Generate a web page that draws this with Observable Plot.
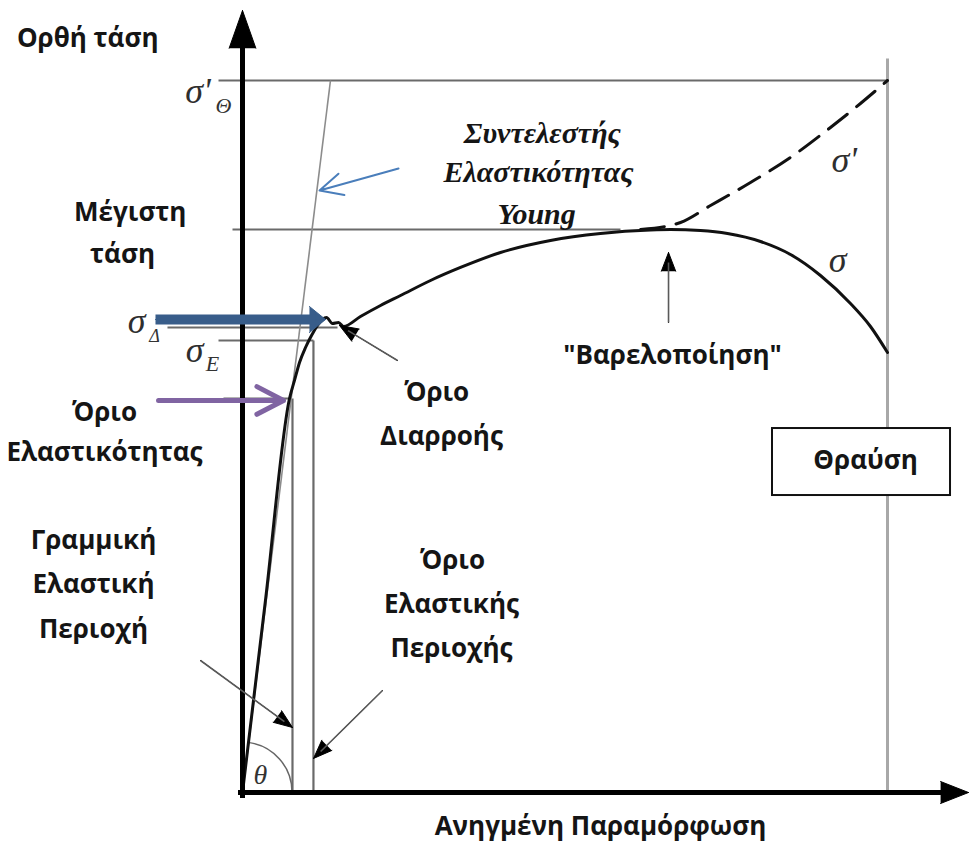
<!DOCTYPE html>
<html>
<head>
<meta charset="utf-8">
<script src="https://cdn.jsdelivr.net/npm/d3@7"></script>
<script src="https://cdn.jsdelivr.net/npm/@observablehq/plot@0.6"></script>
<style>
  html, body { margin: 0; padding: 0; background: #fff; }
  #chart svg { display: block; }
</style>
</head>
<body>
<div id="chart"></div>
<script>
// Stress–strain diagram (schematic units: strain 0–100 up to fracture, stress 0–100 = true fracture stress σ'Θ)

// Engineering stress curve σ
const strainEng = [0, 3.6, 7.29, 8.06, 8.84, 9.77, 10.70, 11.63, 12.40, 13.02, 13.95, 14.88, 15.66, 18.29, 21.40, 24.50, 29.15, 33.80, 40.00, 47.75, 55.50, 63.26, 66.36, 71.01, 75.19, 80.31, 84.96, 89.61, 94.26, 97.36, 100];
const stressEng = [0, 27.3, 55.34, 57.87, 60.39, 62.50, 64.19, 65.59, 66.43, 66.71, 65.87, 66.01, 65.45, 66.85, 68.40, 69.80, 71.91, 73.74, 75.84, 77.53, 78.51, 79.00, 79.07, 78.93, 78.51, 77.39, 75.56, 72.61, 68.68, 65.45, 61.80];

// True stress curve σ' (after necking onset)
const strainTrue = [61.71, 67.91, 72.56, 78.76, 84.96, 91.16, 95.81, 100];
const stressTrue = [79.07, 80.06, 82.44, 85.67, 89.19, 93.40, 96.77, 100];

// Characteristic stress levels
const sigmaFractureTrue = 100;   // σ'Θ
const sigmaMax = 79.07;          // ultimate stress
const sigmaYield = 65.31;        // σΔ
const sigmaElastic = 63.48;      // σE
const sigmaProportional = 55.34; // proportional limit

// Characteristic strains
const strainProportional = 7.75;
const strainElastic = 11.0;
const strainFracture = 100;

// Young's modulus line through the origin
const youngLine = {x1: 0, y1: 0, x2: 13.64, y2: 100};

// Horizontal guides at the characteristic stresses
const hGuides = [
  {level: sigmaFractureTrue, from: -3.72, to: strainFracture},
  {level: sigmaMax, from: -1.55, to: 58.6},
  {level: sigmaYield, from: -11.63, to: 14.73},
  {level: sigmaElastic, from: -3.72, to: strainElastic},
  {level: sigmaProportional, from: -2.95, to: 7.44}
];
const vGuides = [
  {at: strainProportional, top: sigmaProportional},
  {at: strainElastic, top: sigmaElastic}
];
const fractureLine = [{at: strainFracture, top: 103.1}];

// Axes
const axisY = [{x1: 0, y1: -0.42, x2: 0, y2: 109.83}];
const axisX = [{x1: -0.31, y1: 0, x2: 112.56, y2: 0}];

// Pointer arrows with filled heads
const pointers = [
  {x1: 24.03, y1: 60.67, x2: 15.04, y2: 65.59},  // yield point
  {x1: -6.51, y1: 18.54, x2: 7.75, y2: 9.13},    // linear elastic region
  {x1: 21.71, y1: 14.33, x2: 11.01, y2: 4.78},   // elastic region limit
  {x1: 66.05, y1: 66.01, x2: 66.05, y2: 75.84}   // necking
];
const yieldArrow = [{x1: -13.49, y1: 66.43, x2: 12.87, y2: 66.43}];
const elasticArrow = [{x1: -13.02, y1: 55.06, x2: 6.36, y2: 55.06}];
const youngArrow = [{x1: 24.19, y1: 87.64, x2: 11.94, y2: 84.55}];

// Text
const sansLabels = [
  {t: "Ορθή τάση", x: -24.0, y: 105.9},
  {t: "Μέγιστη", x: -17.4, y: 81.5},
  {t: "τάση", x: -18.6, y: 75.6},
  {t: "Όριο", x: -21.4, y: 53.4},
  {t: "Ελαστικότητας", x: -21.4, y: 47.75},
  {t: "Γραμμική", x: -23.1, y: 35.4},
  {t: "Ελαστική", x: -23.1, y: 29.2},
  {t: "Περιοχή", x: -23.1, y: 22.9},
  {t: "Όριο", x: 30.1, y: 56.2},
  {t: "Διαρροής", x: 30.85, y: 50.0},
  {t: "Όριο", x: 32.56, y: 32.6},
  {t: "Ελαστικής", x: 32.4, y: 26.4},
  {t: "Περιοχής", x: 32.4, y: 20.2},
  {t: "\"Βαρελοποίηση\"", x: 66.67, y: 61.4},
  {t: "Θραύση", x: 96.6, y: 46.6},
  {t: "Ανηγμένη Παραμόρφωση", x: 55.5, y: -4.75}
];
const youngLabels = [
  {t: "Συντελεστής", x: 46.5, y: 92.56},
  {t: "Ελαστικότητας", x: 45.9, y: 87.08},
  {t: "Young", x: 45.6, y: 81.18}
];
const symbolLabels = [
  {t: "σ'", x: -6.9, y: 98.46},
  {t: "σ", x: -16.43, y: 66.15},
  {t: "σ", x: -7.44, y: 62.08},
  {t: "σ'", x: 93.3, y: 88.76},
  {t: "σ", x: 92.25, y: 74.72}
];
const subscriptLabels = [
  {t: "Θ", x: -2.95, y: 96.49, size: 22},
  {t: "Δ", x: -13.64, y: 64.04, size: 18},
  {t: "E", x: -4.65, y: 60.25, size: 22},
  {t: "θ", x: 2.79, y: 2.39, size: 28}
];
const fractureBox = [{x1: 82.17, x2: 109.77, y1: 51.12, y2: 41.71}];

// Angle θ between the Young line and the strain axis
function thetaArc(index, scales) {
  const cx = scales.x(0), cy = scales.y(0);
  const tx = scales.x(youngLine.x2) - cx, ty = scales.y(youngLine.y2) - cy;
  const len = Math.hypot(tx, ty), r = 50;
  const sx = cx + r * tx / len, sy = cy + r * ty / len;
  return d3.create("svg:path")
    .attr("d", `M${sx},${sy}A${r},${r} 0 0 1 ${cx + r},${cy}`)
    .attr("fill", "none")
    .attr("stroke", "#666")
    .attr("stroke-width", 1.5)
    .node();
}

const curveEng = strainEng.map((e, i) => ({e, s: stressEng[i]}));
const curveTrue = strainTrue.map((e, i) => ({e, s: stressTrue[i]}));

const subText = (size) => Plot.text(subscriptLabels.filter(d => d.size === size), {
  x: "x", y: "y", text: "t", fontFamily: "Liberation Serif", fontStyle: "italic", fontSize: size, fill: "#333"
});

const chart = Plot.plot({
  width: 971,
  height: 843,
  margin: 0,
  style: {background: "#fff", fontFamily: "Open Sans"},
  x: {domain: [0, 100], range: [242, 887], axis: null},
  y: {domain: [0, 100], range: [792, 80], axis: null},
  marks: [
    // guide lines
    Plot.link(fractureLine, {x1: "at", x2: "at", y1: 0, y2: "top", stroke: "#a8a8a8", strokeWidth: 3}),
    Plot.link(hGuides, {x1: "from", x2: "to", y1: "level", y2: "level", stroke: "#6a6a6a", strokeWidth: 2.2}),
    Plot.link(vGuides, {x1: "at", x2: "at", y1: 0, y2: "top", stroke: "#6a6a6a", strokeWidth: 2.2}),
    Plot.link([youngLine], {x1: "x1", y1: "y1", x2: "x2", y2: "y2", stroke: "#8c8c8c", strokeWidth: 1.6}),
    thetaArc,

    // curves
    Plot.line(curveTrue, {x: "e", y: "s", curve: "monotone-x", stroke: "#111", strokeWidth: 3, strokeDasharray: "24,12"}),
    Plot.line(curveEng, {x: "e", y: "s", curve: "monotone-x", stroke: "#111", strokeWidth: 3}),

    // axes
    Plot.arrow(axisY, {x1: "x1", y1: "y1", x2: "x2", y2: "y2", headLength: 60, headAngle: 39, strokeWidth: 1, stroke: "#000", fill: "#000"}),
    Plot.arrow(axisY, {x1: "x1", y1: "y1", x2: "x2", y2: "y2", headLength: 0, insetEnd: 20, strokeWidth: 5, stroke: "#000", strokeLinecap: "square"}),
    Plot.arrow(axisX, {x1: "x1", y1: "y1", x2: "x2", y2: "y2", headLength: 45, headAngle: 43, strokeWidth: 1, stroke: "#000", fill: "#000"}),
    Plot.arrow(axisX, {x1: "x1", y1: "y1", x2: "x2", y2: "y2", headLength: 0, insetEnd: 15, strokeWidth: 5, stroke: "#000", strokeLinecap: "square"}),

    // pointer arrows
    Plot.arrow(pointers, {x1: "x1", y1: "y1", x2: "x2", y2: "y2", headLength: 30, headAngle: 42, strokeWidth: 1, stroke: "#000", fill: "#000"}),
    Plot.arrow(pointers, {x1: "x1", y1: "y1", x2: "x2", y2: "y2", headLength: 0, insetEnd: 10, strokeWidth: 1.6, stroke: "#5a5a5a", strokeLinecap: "butt"}),
    Plot.arrow(yieldArrow, {x1: "x1", y1: "y1", x2: "x2", y2: "y2", headLength: 31, headAngle: 78, strokeWidth: 1, stroke: "#385d8a", fill: "#385d8a"}),
    Plot.arrow(yieldArrow, {x1: "x1", y1: "y1", x2: "x2", y2: "y2", headLength: 0, insetEnd: 10, strokeWidth: 10, stroke: "#385d8a", strokeLinecap: "butt"}),
    Plot.arrow(elasticArrow, {x1: "x1", y1: "y1", x2: "x2", y2: "y2", headLength: 9, headAngle: 55, strokeWidth: 5, stroke: "#8064a2"}),
    Plot.arrow(youngArrow, {x1: "x1", y1: "y1", x2: "x2", y2: "y2", headLength: 19, headAngle: 52, strokeWidth: 2, stroke: "#4a7ebb"}),

    // fracture box
    Plot.rect(fractureBox, {x1: "x1", x2: "x2", y1: "y1", y2: "y2", fill: "#fff", stroke: "#111", strokeWidth: 2}),

    // text
    Plot.text(sansLabels, {x: "x", y: "y", text: "t", fontFamily: "Open Sans", fontWeight: "bold", fontSize: 26, fill: "#151515"}),
    Plot.text(youngLabels, {x: "x", y: "y", text: "t", fontFamily: "Liberation Serif", fontWeight: "bold", fontStyle: "italic", fontSize: 30, fill: "#151515"}),
    Plot.text(symbolLabels, {x: "x", y: "y", text: "t", fontFamily: "Liberation Serif", fontStyle: "italic", fontSize: 36, fill: "#2e2e2e"}),
    subText(22),
    subText(18),
    subText(28)
  ]
});

document.getElementById("chart").append(chart);
</script>
</body>
</html>
